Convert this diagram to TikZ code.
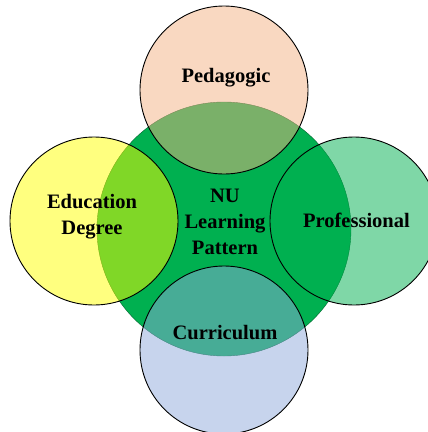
\documentclass[tikz,border=0pt]{standalone}
\usepackage{fontspec}
\setmainfont{Liberation Serif}
\definecolor{nugreen}{HTML}{00B050}
\definecolor{pedpeach}{HTML}{F4B183}
\definecolor{eduyellow}{HTML}{FFFF00}
\definecolor{curblue}{HTML}{8FAADC}
\tikzstyle{core} = [circle,minimum size=254pt,inner sep=0pt,fill=nugreen,draw=nugreen!55!black,line width=0.4pt]
\tikzstyle{petal} = [circle,minimum size=168pt,inner sep=0pt,draw=black,line width=0.9pt,fill opacity=0.5]
\tikzstyle{caption} = [align=center,inner sep=0pt,font=\fontsize{20.5}{26}\selectfont\bfseries]

\begin{document}
\begin{tikzpicture}[x=1pt,y=1pt,node distance=130pt]
	\useasboundingbox (0,0) rectangle (428,-432);
	% core
	\node (nu) [core] at (224,-229) {};
	% petals
	\node (ped) [petal,above of=nu,yshift=9pt,fill=pedpeach] {};
	\node (edu) [petal,left of=nu,yshift=8pt,fill=eduyellow] {};
	\node (pro) [petal,right of=nu,yshift=8pt,fill=nugreen] {};
	\node (cur) [petal,below of=nu,yshift=9pt,fill=curblue] {};
	% labels
	\node (pedtext) [caption,anchor=base] at ([xshift=2pt,yshift=8pt]ped.center) {Pedagogic};
	\node (edutext) [caption] at ([xshift=-2pt,yshift=4pt]edu.center) {Education\\Degree};
	\node (nutext) [caption] at ([xshift=1pt,yshift=7pt]nu.center) {NU\\Learning\\Pattern};
	\node (protext) [caption,anchor=base] at ([xshift=2.5pt,yshift=-6pt]pro.center) {Professional};
	\node (curtext) [caption,anchor=base] at ([xshift=1pt,yshift=11pt]cur.center) {Curriculum};
\end{tikzpicture}
\end{document}
